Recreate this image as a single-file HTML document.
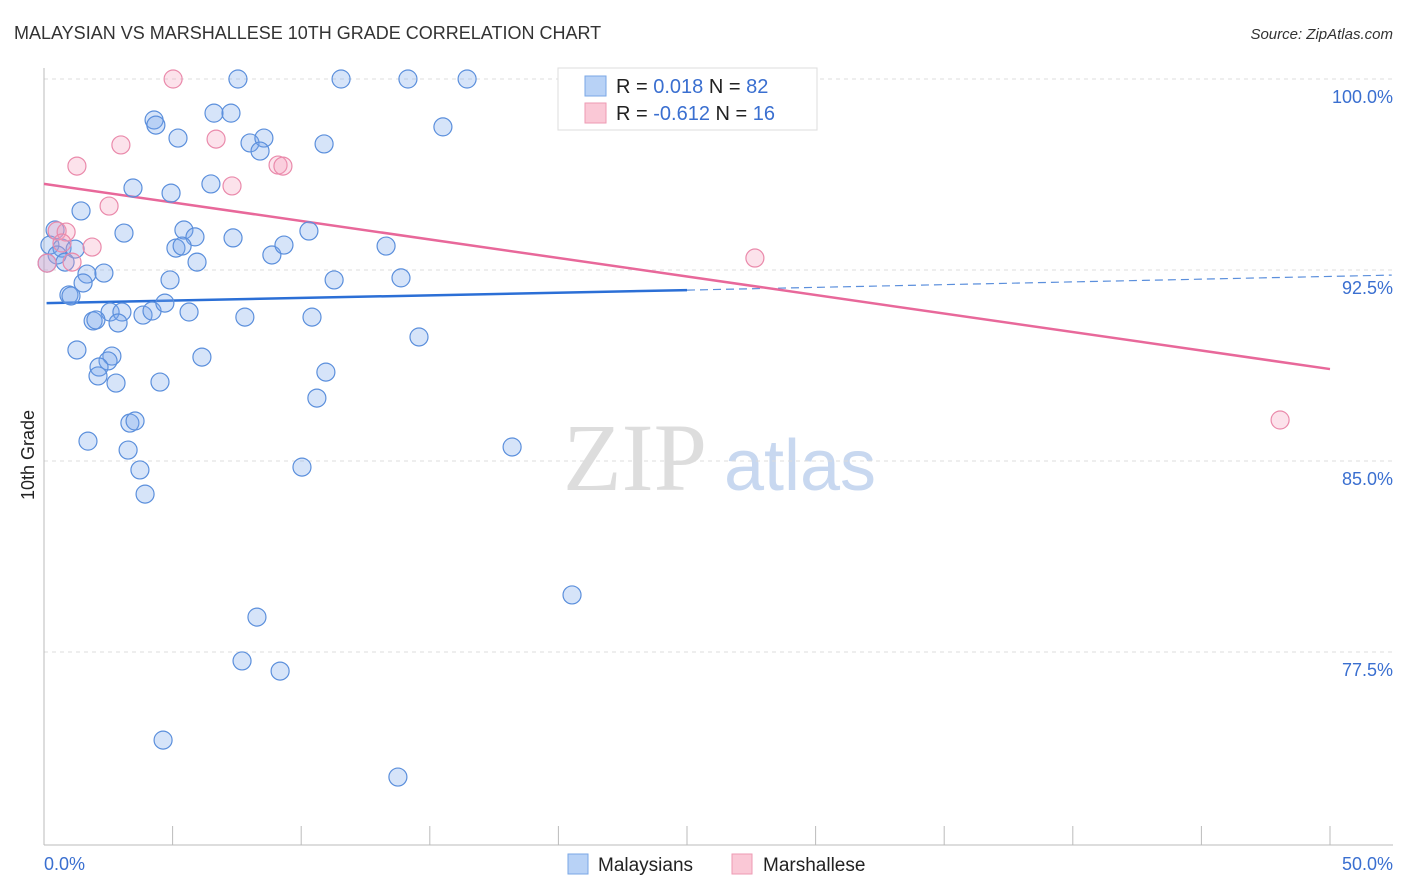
<!DOCTYPE html>
<html><head><meta charset="utf-8"><style>
body{margin:0;background:#fff;width:1406px;height:892px;overflow:hidden;font-family:"Liberation Sans",sans-serif}
svg{position:absolute;left:0;top:0}
</style></head><body>
<svg id="chart" width="1406" height="892" xmlns="http://www.w3.org/2000/svg">
<text x="14" y="39" font-size="18" fill="#333">MALAYSIAN VS MARSHALLESE 10TH GRADE CORRELATION CHART</text>
<text x="1393" y="39" font-size="15" font-style="italic" fill="#333" text-anchor="end">Source: ZipAtlas.com</text>
<text x="34" y="455" font-size="18" fill="#222" text-anchor="middle" transform="rotate(-90 34 455)">10th Grade</text>
<g><text x="635" y="490" font-size="96" font-family="Liberation Serif,serif" fill="#ddd" text-anchor="middle">ZIP</text><text x="800" y="490" font-size="72" fill="#c8d8f0" text-anchor="middle">atlas</text></g>
<g id="grid"></g><g id="axes"></g><g id="trend"></g><g id="pts"></g>
<g>
<rect x="558" y="68" width="259" height="62" fill="#fff" stroke="#ddd"/>
<rect x="585" y="76" width="21" height="20" fill="#b8d2f6" stroke="#7aa7e6"/>
<rect x="585" y="103" width="21" height="20" fill="#fac8d6" stroke="#ee9ab3"/>
<text x="616" y="93" font-size="20" fill="#222">R =  <tspan fill="#3a6fd0">0.018</tspan>   N = <tspan fill="#3a6fd0">82</tspan></text>
<text x="616" y="120" font-size="20" fill="#222">R = <tspan fill="#3a6fd0">-0.612</tspan>   N =  <tspan fill="#3a6fd0">16</tspan></text>
</g>
<g>
<rect x="568" y="854" width="20" height="20" fill="#b8d2f6" stroke="#7aa7e6"/>
<text x="598" y="871" font-size="19" fill="#222">Malaysians</text>
<rect x="732" y="854" width="20" height="20" fill="#fac8d6" stroke="#ee9ab3"/>
<text x="763" y="871" font-size="19" fill="#222">Marshallese</text>
</g>
</svg>
<script>
const yTicks=[100,92.5,85,77.5];
const yTickLabels=["100.0%","92.5%","85.0%","77.5%"];
const xTicks=[0,5,10,15,20,25,30,35,40,45,50];
const xTickLabels=["0.0%","50.0%"];
const malX=[7.54,11.55,14.15,16.45,23.1,4.28,4.35,6.61,7.27,5.21,8.01,8.55,8.40,10.89,15.51,3.46,4.94,6.49,1.44,3.11,5.44,5.87,5.13,5.37,7.35,10.30,8.86,9.33,13.30,0.43,0.23,0.70,1.21,0.51,0.82,0.12,1.67,2.33,4.90,1.52,5.95,11.28,13.88,0.97,1.05,5.64,2.57,3.03,3.85,4.20,4.70,1.91,2.02,2.88,7.81,10.42,14.58,1.28,2.64,2.49,6.14,2.14,2.10,2.80,4.51,10.96,10.61,1.71,3.34,3.54,3.27,3.73,3.93,10.03,18.20,20.53,8.28,7.70,9.18,4.63,13.76];
const malY=[100,100,100,100,100,98.39,98.19,98.66,98.66,97.68,97.49,97.68,97.17,97.45,98.12,95.72,95.52,95.88,94.82,93.95,94.07,93.80,93.36,93.44,93.76,94.03,93.09,93.48,93.44,94.07,93.48,93.36,93.32,93.09,92.81,92.77,92.34,92.38,92.11,91.99,92.81,92.11,92.19,91.52,91.48,90.85,90.85,90.85,90.73,90.89,91.20,90.50,90.54,90.42,90.65,90.65,89.87,89.36,89.12,88.93,89.08,88.69,88.34,88.06,88.10,88.49,87.47,85.78,86.49,86.57,85.43,84.65,83.70,84.76,85.55,79.74,78.87,77.15,76.75,74.04,72.59];
const marX=[5.02,2.99,1.28,6.69,7.31,9.10,9.29,2.53,1.87,0.51,0.86,0.70,1.09,0.12,27.64,48.06];
const marY=[100,97.41,96.58,97.64,95.80,96.62,96.58,95.01,93.40,94.03,93.99,93.56,92.81,92.77,92.97,86.61];
const malTrend=[[0.1,91.2],[25,91.71],[52.4,92.3]];
const marTrend=[[0,95.88],[50,88.61]];
const X=v=>44+v*25.72, Y=v=>79+(100-v)*191/7.5;
const NS="http://www.w3.org/2000/svg";
function mk(p,t,a){const e=document.createElementNS(NS,t);for(const k in a)e.setAttribute(k,a[k]);document.getElementById(p).appendChild(e);return e;}
yTicks.forEach((v,i)=>{
 const l=mk('grid','line',{x1:44,x2:1393,y1:Y(v),y2:Y(v),stroke:'#ddd','stroke-dasharray':'4,4'});
 
 
 const t=mk('grid','text',{x:1393,y:Y(v)+24,'font-size':18,fill:'#3a6fd0','text-anchor':'end'});t.textContent=yTickLabels[i];
 
 
});
let a=mk('axes','line',{x1:44,x2:1393,y1:845,y2:845,stroke:'#bbb'});


a=mk('axes','line',{x1:44,x2:44,y1:68,y2:845,stroke:'#bbb'});


xTicks.forEach(v=>{const t=mk('axes','line',{x1:X(v),x2:X(v),y1:826,y2:845,stroke:'#bbb'});
 
 });
[[0,'start'],[50,'end']].forEach((p,i)=>{const t=mk('axes','text',{x:i?1393:44,y:870,'font-size':18,fill:'#3a6fd0','text-anchor':p[1]});t.textContent=xTickLabels[i];
 
 });
let tl=mk('trend','line',{x1:X(malTrend[0][0]),y1:Y(malTrend[0][1]),x2:X(malTrend[1][0]),y2:Y(malTrend[1][1]),stroke:'#2b6fd6','stroke-width':2.5});


tl=mk('trend','line',{x1:X(malTrend[1][0]),y1:Y(malTrend[1][1]),x2:X(malTrend[2][0]),y2:Y(malTrend[2][1]),stroke:'#5b8fdc','stroke-width':1.2,'stroke-dasharray':'8,5'});


tl=mk('trend','line',{x1:X(marTrend[0][0]),y1:Y(marTrend[0][1]),x2:X(marTrend[1][0]),y2:Y(marTrend[1][1]),stroke:'#e8689a','stroke-width':2.5});


malX.forEach((x,i)=>{const c=mk('pts','circle',{cx:X(x),cy:Y(malY[i]),r:9,fill:'rgba(120,165,235,0.3)',stroke:'#5b8fdc','stroke-width':1.2});
 
 });
marX.forEach((x,i)=>{const c=mk('pts','circle',{cx:X(x),cy:Y(marY[i]),r:9,fill:'rgba(245,160,190,0.3)',stroke:'#ea8aab','stroke-width':1.2});
 
 });
</script>
</body></html>
